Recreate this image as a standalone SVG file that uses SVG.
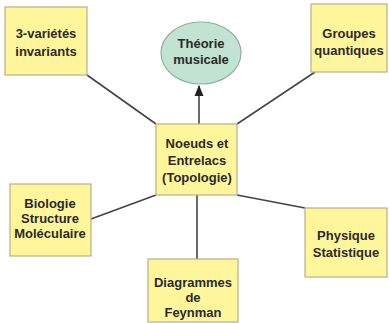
<svg xmlns="http://www.w3.org/2000/svg" width="389" height="323" viewBox="0 0 389 323">
<defs>
<style>
.box{fill:#FFF69C;stroke:#B8B08A;stroke-width:1.2}
.ell{fill:#C2E2D2;stroke:#8FAFA0;stroke-width:1.2}
.lbl{font-family:"Liberation Sans",Arial,sans-serif;font-weight:bold;font-size:13px;fill:#2a2a2a;text-anchor:middle}
.con{stroke:#444;stroke-width:1.6;fill:none}
</style>
<marker id="arr" viewBox="0 0 10 10" refX="9" refY="5" markerWidth="7" markerHeight="7" orient="auto">
<path d="M0,1 L10,5 L0,9 z" fill="#222"/>
</marker>
</defs>
<rect width="389" height="323" fill="#fff"/>
<g id="connectors">
<line class="con" x1="87" y1="75" x2="156" y2="124"/>
<line class="con" x1="315" y1="72" x2="237" y2="124"/>
<line class="con" x1="91" y1="219" x2="156" y2="195"/>
<line class="con" x1="305" y1="208" x2="237" y2="195"/>
<line class="con" x1="197" y1="195" x2="197" y2="259"/>
<line class="con" x1="199" y1="124" x2="199" y2="86" marker-end="url(#arr)"/>
</g>
<g id="n-theorie">
<ellipse class="ell" cx="201" cy="53" rx="40" ry="31"/>
<text class="lbl" x="201" y="48">Théorie</text>
<text class="lbl" x="201" y="64">musicale</text>
</g>
<g id="n-3varietes">
<rect class="box" x="5" y="7" width="82" height="68"/>
<text class="lbl" x="46" y="38">3-variétés</text>
<text class="lbl" x="46" y="56">invariants</text>
</g>
<g id="n-groupes">
<rect class="box" x="311" y="4" width="76" height="68"/>
<text class="lbl" x="349" y="38">Groupes</text>
<text class="lbl" x="349" y="55">quantiques</text>
</g>
<g id="n-noeuds">
<rect class="box" x="156" y="124" width="81" height="71"/>
<text class="lbl" x="197" y="148">Noeuds et</text>
<text class="lbl" x="197" y="165">Entrelacs</text>
<text class="lbl" x="197" y="182">(Topologie)</text>
</g>
<g id="n-biologie">
<rect class="box" x="10" y="184" width="81" height="72"/>
<text class="lbl" x="50" y="208">Biologie</text>
<text class="lbl" x="50" y="223">Structure</text>
<text class="lbl" x="50" y="238">Moléculaire</text>
</g>
<g id="n-diagrammes">
<rect class="box" x="148" y="259" width="90" height="63"/>
<text class="lbl" x="193" y="287">Diagrammes</text>
<text class="lbl" x="193" y="302">de</text>
<text class="lbl" x="193" y="317">Feynman</text>
</g>
<g id="n-physique">
<rect class="box" x="305" y="208" width="82" height="69"/>
<text class="lbl" x="346" y="240">Physique</text>
<text class="lbl" x="346" y="257">Statistique</text>
</g>
</svg>
